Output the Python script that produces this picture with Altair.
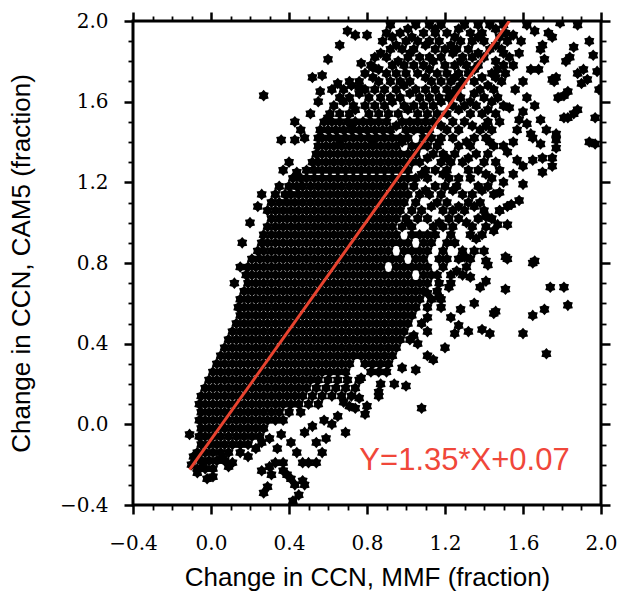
import altair as alt
import pandas as pd

# ---------------- data (in hundredths of a fraction) -------------
# Scatter points organised by horizontal rows: ROW_Y[i] is the y of every point in ROW_X[i]
ROW_Y = [-22, -18, -14, -10, -6, -2, 2, 6, 10, 14, 18, 22, 26, 30, 34, 38, 42, 46, 50, 54,
         58, 62, 66, 70, 74, 78, 82, 86, 90, 94, 98, 102, 106, 110, 114, 118, 122, 126, 130, 134,
         138, 142, 146, 150, 154, 158, 162, 166, 170, 174, 178, 182, 186, 190, 194, 198,
         140, 148, 156, 160, 164, 168, 172, 176, 180, 184, 188, 192, 196,
         100, 108, 116, 124, 132]
ROW_X = [
    [-7, -3, 1],
    [-5, -1, 3, 7],
    [-7, -3, 1, 5, 9],
    [-5, -1, 3, 7, 11, 15, 19],
    [-6, -3, 1, 5, 9, 13, 17, 21, 25],
    [-5, -1, 3, 7, 11, 15, 19, 23, 27],
    [-6, -3, 1, 5, 9, 13, 17, 21, 25, 29, 33, 37],
    [-5, -1, 3, 7, 11, 15, 19, 23, 27, 31, 35, 40, 46],
    [-6, -3, 1, 5, 9, 13, 17, 21, 25, 29, 33, 37, 41, 45, 50, 55],
    [-5, -1, 3, 7, 11, 15, 19, 23, 27, 31, 35, 39, 43, 47, 52, 57, 62, 67, 72],
    [-3, 1, 5, 9, 13, 17, 21, 25, 29, 33, 37, 41, 45, 49, 54, 59, 64, 69, 74],
    [-1, 3, 7, 11, 15, 19, 23, 27, 31, 35, 39, 43, 47, 51, 55, 60, 65, 70, 76],
    [1, 5, 9, 13, 17, 21, 25, 29, 33, 37, 41, 45, 49, 53, 57, 61, 65, 69, 82, 86, 90],
    [3, 7, 11, 15, 19, 23, 27, 31, 35, 39, 43, 47, 51, 55, 59, 63, 67, 71, 79, 83, 87, 91],
    [5, 9, 13, 17, 21, 25, 29, 33, 37, 41, 45, 49, 53, 57, 61, 65, 69, 73, 77, 81, 85, 89, 93],
    [7, 11, 15, 19, 23, 27, 31, 35, 39, 43, 47, 51, 55, 59, 63, 67, 71, 75, 79, 83, 87, 91, 95],
    [9, 13, 17, 21, 25, 29, 33, 37, 41, 45, 49, 53, 57, 61, 65, 69, 73, 77, 81, 85, 89, 93, 97, 102],
    [11, 15, 19, 23, 27, 31, 35, 39, 43, 47, 51, 55, 59, 63, 67, 71, 75, 79, 83, 87, 91, 95, 99],
    [13, 17, 21, 25, 29, 33, 37, 41, 45, 49, 53, 57, 61, 65, 69, 73, 77, 81, 85, 89, 93, 97, 101],
    [15, 19, 23, 27, 31, 35, 39, 43, 47, 51, 55, 59, 63, 67, 71, 75, 79, 83, 87, 91, 95, 99, 103],
    [14, 17, 21, 25, 29, 33, 37, 41, 45, 49, 53, 57, 61, 65, 69, 73, 77, 81, 85, 89, 93, 97, 101, 105, 111],
    [15, 19, 23, 27, 31, 35, 39, 43, 47, 51, 55, 59, 63, 67, 71, 75, 79, 83, 87, 91, 95, 99, 103, 107, 113, 118],
    [17, 21, 25, 29, 33, 37, 41, 45, 49, 53, 57, 61, 65, 69, 73, 77, 81, 85, 89, 93, 97, 101, 105, 109, 116],
    [19, 23, 27, 31, 35, 39, 43, 47, 51, 55, 59, 63, 67, 71, 75, 79, 83, 87, 91, 95, 99, 103, 107, 111, 117, 123],
    [18, 21, 25, 29, 33, 37, 41, 45, 49, 53, 57, 61, 65, 69, 73, 77, 81, 85, 89, 93, 97, 101, 109, 113, 123, 129],
    [19, 23, 27, 31, 35, 39, 43, 47, 51, 55, 59, 63, 67, 71, 75, 79, 83, 87, 95, 99, 103, 107, 111, 119, 131],
    [21, 25, 29, 33, 37, 41, 45, 49, 53, 57, 61, 65, 69, 73, 77, 81, 85, 89, 93, 97, 105, 109, 117, 121, 127, 133],
    [24, 27, 31, 35, 39, 43, 47, 51, 55, 59, 63, 67, 71, 75, 79, 83, 87, 91, 99, 103, 107, 111, 119, 129, 135],
    [26, 29, 33, 37, 41, 45, 49, 53, 57, 61, 65, 69, 73, 77, 81, 85, 89, 93, 97, 101, 109, 113, 121, 125],
    [27, 31, 35, 39, 43, 47, 51, 55, 59, 63, 67, 71, 75, 79, 83, 87, 91, 95, 103, 107, 111, 115, 123, 133, 139],
    [29, 33, 37, 41, 45, 49, 53, 57, 61, 65, 69, 73, 77, 81, 85, 89, 93, 98, 103, 114, 119, 124, 134, 141],
    [31, 35, 39, 43, 47, 51, 55, 59, 63, 67, 71, 75, 79, 83, 87, 91, 95, 100, 106, 111, 122, 127, 137, 144],
    [29, 33, 37, 41, 45, 49, 53, 57, 61, 65, 69, 73, 77, 81, 85, 89, 93, 97, 103, 108, 119, 124, 130, 140, 148],
    [31, 35, 39, 43, 47, 51, 55, 59, 63, 67, 71, 75, 79, 83, 87, 91, 95, 99, 105, 116, 121, 132, 138],
    [38, 41, 45, 49, 53, 57, 61, 65, 69, 73, 77, 81, 85, 89, 93, 97, 101, 107, 112, 118, 129, 134, 145],
    [44, 47, 51, 55, 59, 63, 67, 71, 75, 79, 83, 87, 91, 95, 99, 104, 115, 120, 126, 137, 142],
    [46, 49, 53, 57, 61, 65, 69, 73, 77, 81, 85, 89, 93, 97, 101, 105, 111, 122, 127, 133, 144],
    [49, 53, 57, 61, 65, 69, 73, 77, 81, 85, 89, 93, 97, 101, 110, 115, 121, 132, 137, 148],
    [52, 55, 59, 63, 67, 71, 75, 79, 83, 87, 91, 95, 99, 103, 107, 118, 123, 129, 140, 146],
    [54, 57, 61, 65, 69, 73, 77, 81, 85, 89, 93, 97, 101, 105, 114, 119, 125, 136, 142],
    [55, 59, 63, 67, 71, 75, 79, 83, 87, 91, 95, 103, 107, 111, 116, 127, 133, 145, 150],
    [55, 57, 61, 65, 69, 73, 77, 81, 85, 89, 93, 97, 101, 109, 113, 118, 124, 135, 141],
    [56, 60, 64, 68, 72, 76, 80, 84, 88, 92, 100, 104, 108, 112, 121, 127, 138, 144],
    [58, 62, 66, 70, 74, 78, 82, 86, 90, 98, 102, 106, 110, 114, 124, 130, 142, 148],
    [61, 66, 71, 81, 86, 91, 96, 106, 111, 116, 121, 133, 139, 146],
    [63, 73, 79, 84, 89, 99, 104, 109, 114, 124, 130, 136, 150],
    [66, 71, 81, 87, 92, 97, 107, 112, 117, 122, 128, 140, 147],
    [68, 79, 84, 89, 95, 105, 110, 115, 121, 126, 138, 145],
    [76, 86, 92, 97, 102, 113, 118, 123, 129, 135, 149],
    [79, 90, 95, 100, 106, 116, 121, 127, 132, 144, 151],
    [82, 93, 99, 104, 109, 120, 125, 131, 137, 150],
    [84, 90, 101, 107, 112, 118, 129, 134, 140, 153],
    [92, 98, 104, 115, 120, 126, 132, 143, 149],
    [88, 100, 106, 112, 117, 128, 134, 140, 152],
    [90, 97, 109, 115, 121, 133, 139, 151],
    [92, 105, 112, 118, 130, 137, 143, 150],
    # in-between rows of the upper, mottled part of the cloud
    [66, 83, 98, 117, 131, 143],
    [72, 95, 118, 134, 141],
    [74, 101, 127, 142],
    [68, 93, 118, 133, 144],
    [76, 102, 124, 135],
    [72, 99, 128, 142],
    [83, 110, 125, 139, 146],
    [86, 112, 135, 147],
    [96, 114, 128, 146],
    [87, 102, 124, 137, 150],
    [95, 110, 123, 146],
    [93, 103, 125, 137, 148],
    [101, 115, 127, 146],
    [101, 117, 131],
    [113, 127, 135],
    [110, 124, 139],
    [108, 119, 141],
    [111, 121, 132],
]

# isolated points around the dense cloud
OUT_X = [-11, 1, -7, 11, 23, 30, 34, 36, 41, 26, 30, 31, 33, 37, 37, 39, 41, 43, 47, 48,
         27, 29, 45, 42, 47, 50, 54, 57, 54, 59, 69, 71, 74, 80, 79, 86, 76, 77, 87, 86,
         108, 15, 6, 9, -2, 62, 65, 68, 19, 26, 48, 52, 58, 44, -10, -9, -4,
         12, 15, 16, 20, 24, 26, 27, 36, 43, 48, 37, 35, 51, 52, 57, 60, 66, 70, 74, 80,
         77, 83, 56, 55, 60, 65, 71, 76, 62, 40, 44, 33, 43, 46, 40, 42,
         141, 147, 152, 145, 136, 140, 141, 142, 152, 165, 130, 122, 138, 141, 151, 174, 181, 183,
         171, 165, 145, 160, 143, 139, 132, 127, 125, 123, 117, 111, 111, 120, 111, 114, 172,
         100, 94, 111, 106, 116, 126, 133, 105, 98, 166, 151, 146, 135, 128, 118, 104, 108,
         194, 197, 197, 196, 188, 186, 183, 181, 176, 183, 181, 178, 190, 193, 186, 184, 182,
         188, 191, 177, 177, 177, 175, 175, 170, 170, 164, 169, 165, 160, 158, 154, 157, 155,
         169, 170, 175, 173, 194, 175, 177, 188, 179, 158, 162, 172, 169, 165, 160, 152, 199,
         198, 162, 166, 160, 164, 158, 166, 162, 156, 155, 152, 155, 148, 150, 148, 157, 153,
         160, 159, 155, 171, 168]
OUT_Y = [-5, -26, -24, -19, -12, -7, -12, -5, -9, -23, -21, -25, -19, -19, -23, -25, -27, -30, -28, -30,
         -34, -31, -35, -38, -19, -19, -19, -14, -9, -7, -4, 9, 8, 9, 5, 14, 13, 23, 20, 16,
         8, -14, -17, -21, -27, 0, 4, 11, -16, -9, -4, -1, 2, -14, -20, -16, -20,
         70, 78, 90, 100, 108, 114, 163, 141, 141, 142, 126, 118, 154, 172, 173, 181, 188, 195, 193, 193,
         179, 177, 165, 160, 152, 169, 170, 167, 166, 130, 125, 114, 150, 146, 118, 122,
         103, 99, 99, 96, 92, 86, 81, 79, 82, 80, 83, 68, 68, 71, 67, 68, 68, 59,
         57, 54, 55, 45, 45, 47, 46, 49, 45, 53, 63, 53, 46, 38, 34, 32, 35,
         19, 20, 65, 40, 74, 76, 73, 27, 28, 81, 83, 56, 60, 57, 58, 44, 50,
         190, 152, 139, 183, 156, 154, 152, 152, 170, 165, 163, 162, 169, 171, 187, 182, 180,
         174, 176, 144, 141, 137, 132, 128, 125, 132, 144, 151, 142, 119, 111, 109, 131, 124,
         186, 188, 192, 194, 140, 171, 172, 198, 199, 151, 149, 146, 139, 131, 128, 108, 166,
         175, 162, 158, 170, 176, 184, 195, 198, 166, 178, 135, 140, 115, 120, 106, 146, 157,
         155, 190, 193, 181, 176]

# fitted line as drawn, and its label
LINE_X = [-0.11, 1.53]
LINE_Y = [-0.225, 2.0]
EQ_LABEL = ["Y=1.35*X+0.07"]
EQ_X = [1.30]
EQ_Y = [-0.18]

X_TITLE = "Change in CCN, MMF (fraction)"
Y_TITLE = "Change in CCN, CAM5 (fraction)"
MAJOR_TICKS = [-0.4, 0.0, 0.4, 0.8, 1.2, 1.6, 2.0]
MINOR_TICKS = [-0.3, -0.2, -0.1, 0.1, 0.2, 0.3, 0.5, 0.6, 0.7, 0.9, 1.0, 1.1,
               1.3, 1.4, 1.5, 1.7, 1.8, 1.9]

# ---------------- tables ----------------
xs, ys = [], []
for yv, row in zip(ROW_Y, ROW_X):
    for xv in row:
        xs.append(xv / 100.0)
        ys.append(yv / 100.0)
for xv, yv in zip(OUT_X, OUT_Y):
    xs.append(xv / 100.0)
    ys.append(yv / 100.0)
pts = pd.DataFrame({"x": xs, "y": ys})
line_df = pd.DataFrame({"x": LINE_X, "y": LINE_Y})
text_df = pd.DataFrame({"x": EQ_X, "y": EQ_Y, "label": EQ_LABEL})

# ---------------- style ----------------
RED = "#e8432f"
STAR = ("M0.7,0L0.866,0.5L0.35,0.606L0,1L-0.35,0.606L-0.866,0.5L-0.7,0"
        "L-0.866,-0.5L-0.35,-0.606L0,-1L0.35,-0.606L0.866,-0.5Z")
LABEL_FONT = "DejaVu Serif"
TITLE_FONT = "Liberation Sans"

sx = alt.Scale(domain=[-0.4, 2.0], nice=False, zero=False)
sy = alt.Scale(domain=[-0.4, 2.0], nice=False, zero=False)


def major_axis(orient, labelled, title=None, title_pad=0, label_pad=16):
    kw = dict(orient=orient, values=MAJOR_TICKS, format=".1f", grid=False, domain=False,
              ticks=True, tickSize=9, tickWidth=2.5, tickColor="black",
              labels=labelled, labelFont=LABEL_FONT, labelFontSize=20, labelColor="black",
              labelPadding=label_pad, labelFlush=False, labelOverlap=False)
    if labelled:
        kw.update(title=title, titleFont=TITLE_FONT, titleFontSize=26,
                  titleFontWeight="normal", titleColor="black", titlePadding=title_pad)
    else:
        kw.update(title=None)
    return alt.Axis(**kw)


def minor_axis(orient):
    return alt.Axis(orient=orient, values=MINOR_TICKS, grid=False, domain=False,
                    ticks=True, tickSize=5, tickWidth=1.8, tickColor="black",
                    labels=False, title=None)


points = alt.Chart(pts).mark_point(
    shape=STAR, filled=True, size=135, color="black", opacity=1, strokeWidth=0, clip=True
).encode(
    x=alt.X("x:Q", scale=sx, axis=major_axis("bottom", True, X_TITLE, 11, 19)),
    y=alt.Y("y:Q", scale=sy, axis=major_axis("left", True, Y_TITLE, 25, 16)),
)

fit = alt.Chart(line_df).mark_line(color=RED, strokeWidth=3, clip=True).encode(
    x=alt.X("x:Q", scale=sx, axis=major_axis("top", False)),
    y=alt.Y("y:Q", scale=sy, axis=major_axis("right", False)),
)

eq = alt.Chart(text_df).mark_text(
    font=TITLE_FONT, fontSize=31, color="#f0473a", align="center", baseline="middle"
).encode(
    x=alt.X("x:Q", scale=sx, axis=minor_axis("bottom")),
    y=alt.Y("y:Q", scale=sy, axis=minor_axis("left")),
    text="label:N",
)

minor2 = alt.Chart(line_df).mark_line(opacity=0).encode(
    x=alt.X("x:Q", scale=sx, axis=minor_axis("top")),
    y=alt.Y("y:Q", scale=sy, axis=minor_axis("right")),
)

chart = alt.layer(points, fit, eq, minor2).resolve_axis(
    x="independent", y="independent"
).properties(
    width=468, height=484,
    autosize=alt.AutoSizeParams(type="none"),
    padding={"left": 133, "top": 21, "right": 19, "bottom": 91},
    background="white",
).configure_view(stroke="black", strokeWidth=3)

chart.save("out.html", embed_options={"renderer": "svg", "actions": False})
